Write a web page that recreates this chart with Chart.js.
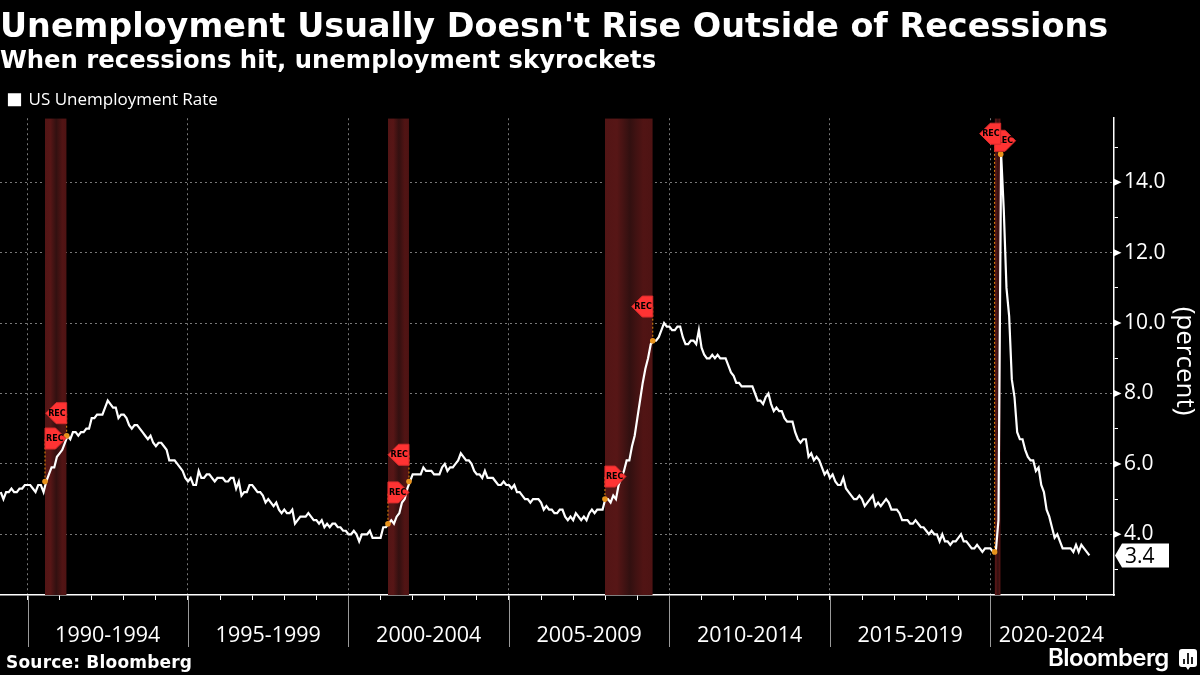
<!DOCTYPE html>
<html>
<head>
<meta charset="utf-8">
<title>Unemployment Usually Doesn't Rise Outside of Recessions</title>
<script src="https://cdn.jsdelivr.net/npm/chart.js@4"></script>
<style>
  html, body { margin: 0; padding: 0; background: #000; }
  #wrap { position: relative; width: 1200px; height: 675px; overflow: hidden; }
  #source { position: absolute; left: 6px; top: 652px; color: #fff; font: bold 17px "DejaVu Sans"; letter-spacing: 0.2px; }
  #brand { position: absolute; left: 1048px; top: 643px; color: #fff; font: 600 24px Inter; letter-spacing: -0.6px; }
  #icon { position: absolute; left: 1179px; top: 649px; }
</style>
</head>
<body>
<div id="wrap">
  <canvas id="chartUnemployment" width="1200" height="675"></canvas>
  <div id="source">Source: Bloomberg</div>
  <div id="brand">Bloomberg</div>
  <svg id="icon" width="18" height="21" viewBox="0 0 18 21">
    <path d="M3 0H15A3 3 0 0 1 18 3V15A3 3 0 0 1 15 18H11L9 21L7 18H3A3 3 0 0 1 0 15V3A3 3 0 0 1 3 0Z" fill="#fff"/>
    <path d="M4 10h2v5H4zM8 4h2v11H8zM12 8h2v7h-2z" fill="#222"/>
  </svg>
</div>
<script>
// US unemployment rate, month by month, first point is Feb 1989
var rate1989 = [5.2, 5.0, 5.2, 5.2, 5.3, 5.2, 5.2, 5.3, 5.3, 5.4, 5.4];
var rate1990s = [
  5.4, 5.3, 5.2, 5.4, 5.4, 5.2, 5.5, 5.7, 5.9, 5.9, 6.2, 6.3,
  6.4, 6.6, 6.8, 6.7, 6.9, 6.9, 6.8, 6.9, 6.9, 7.0, 7.0, 7.3,
  7.3, 7.4, 7.4, 7.4, 7.6, 7.8, 7.7, 7.6, 7.6, 7.3, 7.4, 7.4,
  7.3, 7.1, 7.0, 7.1, 7.1, 7.0, 6.9, 6.8, 6.7, 6.8, 6.6, 6.5,
  6.6, 6.6, 6.5, 6.4, 6.1, 6.1, 6.1, 6.0, 5.9, 5.8, 5.6, 5.5,
  5.6, 5.4, 5.4, 5.8, 5.6, 5.6, 5.7, 5.7, 5.6, 5.5, 5.6, 5.6,
  5.6, 5.5, 5.5, 5.6, 5.6, 5.3, 5.5, 5.1, 5.2, 5.2, 5.4, 5.4,
  5.3, 5.2, 5.2, 5.1, 4.9, 5.0, 4.9, 4.8, 4.9, 4.7, 4.6, 4.7,
  4.6, 4.6, 4.7, 4.3, 4.4, 4.5, 4.5, 4.5, 4.6, 4.5, 4.4, 4.4,
  4.3, 4.4, 4.2, 4.3, 4.2, 4.3, 4.3, 4.2, 4.2, 4.1, 4.1, 4.0
];
var rate2000s = [
  4.0, 4.1, 4.0, 3.8, 4.0, 4.0, 4.0, 4.1, 3.9, 3.9, 3.9, 3.9,
  4.2, 4.2, 4.3, 4.4, 4.3, 4.5, 4.6, 4.9, 5.0, 5.3, 5.5, 5.7,
  5.7, 5.7, 5.7, 5.9, 5.8, 5.8, 5.8, 5.7, 5.7, 5.7, 5.9, 6.0,
  5.8, 5.9, 5.9, 6.0, 6.1, 6.3, 6.2, 6.1, 6.1, 6.0, 5.8, 5.7,
  5.7, 5.6, 5.8, 5.6, 5.6, 5.6, 5.5, 5.4, 5.4, 5.5, 5.4, 5.4,
  5.3, 5.4, 5.2, 5.2, 5.1, 5.0, 5.0, 4.9, 5.0, 5.0, 5.0, 4.9,
  4.7, 4.8, 4.7, 4.7, 4.6, 4.6, 4.7, 4.7, 4.5, 4.4, 4.5, 4.4,
  4.6, 4.5, 4.4, 4.5, 4.4, 4.6, 4.7, 4.6, 4.7, 4.7, 4.7, 5.0,
  5.0, 4.9, 5.1, 5.0, 5.4, 5.6, 5.8, 6.1, 6.1, 6.5, 6.8, 7.3,
  7.8, 8.3, 8.7, 9.0, 9.4, 9.5, 9.5, 9.6, 9.8, 10.0, 9.9, 9.9
];
var rate2010s = [
  9.8, 9.8, 9.9, 9.9, 9.6, 9.4, 9.4, 9.5, 9.5, 9.4, 9.8, 9.3,
  9.1, 9.0, 9.0, 9.1, 9.0, 9.1, 9.0, 9.0, 9.0, 8.8, 8.6, 8.5,
  8.3, 8.3, 8.2, 8.2, 8.2, 8.2, 8.2, 8.0, 7.8, 7.8, 7.7, 7.9,
  8.0, 7.7, 7.5, 7.6, 7.5, 7.5, 7.3, 7.2, 7.2, 7.2, 6.9, 6.7,
  6.6, 6.7, 6.7, 6.2, 6.3, 6.1, 6.2, 6.1, 5.9, 5.7, 5.8, 5.6,
  5.7, 5.5, 5.4, 5.4, 5.6, 5.3, 5.2, 5.1, 5.0, 5.0, 5.1, 5.0,
  4.8, 4.9, 5.0, 5.1, 4.8, 4.9, 4.8, 4.9, 5.0, 4.9, 4.7, 4.7,
  4.7, 4.6, 4.4, 4.4, 4.4, 4.3, 4.3, 4.4, 4.3, 4.2, 4.2, 4.1,
  4.0, 4.1, 4.0, 4.0, 3.8, 4.0, 3.8, 3.8, 3.7, 3.8, 3.8, 3.9,
  4.0, 3.8, 3.8, 3.7, 3.6, 3.6, 3.7, 3.6, 3.5, 3.6, 3.6, 3.6
];
var rate2020s = [
  3.5, 3.5, 4.4, 14.8, 13.2, 11.0, 10.2, 8.4, 7.9, 6.9, 6.7, 6.7,
  6.4, 6.2, 6.1, 6.1, 5.8, 5.9, 5.4, 5.2, 4.7, 4.5, 4.2, 3.9,
  4.0, 3.8, 3.6, 3.6, 3.6, 3.6, 3.5, 3.7, 3.5, 3.7, 3.6, 3.5,
  3.4
];
var rates = rate1989.concat(rate1990s, rate2000s, rate2010s, rate2020s);

// recessions, in decimal years
var recStart = [1990.545, 2001.23, 2007.99, 2020.13];
var recEnd = [1991.22, 2001.885, 2009.48, 2020.32];
var recStartRate = [5.5, 4.3, 5.0, 3.5];
var recEndRate = [6.8, 5.5, 9.5, 14.8];
// height of the REC flags on the percent axis
var flagStartLevel = [6.72, 5.19, 5.64, 15.18];
var flagEndLevel = [7.44, 6.26, 10.47, 15.38];

var yearTicks = [1990,1991,1992,1993,1994,1995,1996,1997,1998,1999,2000,2001,2002,2003,2004,2005,2006,2007,2008,2009,2010,2011,2012,2013,2014,2015,2016,2017,2018,2019,2020,2021,2022,2023];
var periodTicks = [1992.5, 1997.5, 2002.5, 2007.5, 2012.5, 2017.5, 2021.9];
var periodLabels = ['1990-1994', '1995-1999', '2000-2004', '2005-2009', '2010-2014', '2015-2019', '2020-2024'];
var percentTicks = [3, 4, 5, 6, 7, 8, 9, 10, 11, 12, 13, 14, 15];

var X_MIN = 1989.143, X_MAX = 2023.85, Y_MIN = 2.275, Y_MAX = 15.82;
var FONT_AXIS = '"Open Sans"';

function isFive(v) { return Number.isInteger(v) && v % 5 === 0; }
function isPeriod(v) { return periodTicks.indexOf(v) >= 0; }

// points of the main line, dates are month ends
var linePoints = rates.map(function(v, i) {
  return { x: 1989 + (i + 2) / 12, y: v };
});

// dark red band, darker in the middle
function bandFill(i) {
  return function(ctx) {
    var chart = ctx.chart;
    if (!chart.chartArea) return '#4a1414';
    var sx = chart.scales.x;
    var g = chart.ctx.createLinearGradient(sx.getPixelForValue(recStart[i]), 0, sx.getPixelForValue(recEnd[i]), 0);
    g.addColorStop(0, '#521515');
    g.addColorStop(0.25, '#571616');
    g.addColorStop(0.52, '#321010');
    g.addColorStop(0.8, '#511414');
    g.addColorStop(1, '#4e1313');
    return g;
  };
}

var bandSets = recStart.map(function(s, i) {
  return {
    label: 'band' + i,
    data: [{ x: s, y: Y_MAX }, { x: recEnd[i], y: Y_MAX }],
    fill: 'start',
    backgroundColor: bandFill(i),
    borderWidth: 0,
    pointRadius: 0,
    order: 3
  };
});

var dotPoints = recStart.map(function(s, i) { return { x: s, y: recStartRate[i] }; })
  .concat(recEnd.map(function(e, i) { return { x: e, y: recEndRate[i] }; }));

// REC flags, the dashed stems and the arrow ticks
var decorPlugin = {
  id: 'decor',
  afterDatasetsDraw: function(chart) {
    var c = chart.ctx, sx = chart.scales.x, sy = chart.scales.y;

    function stem(x, v, level) {
      c.save();
      c.strokeStyle = '#e8890c';
      c.lineWidth = 1;
      c.setLineDash([2, 2]);
      c.beginPath();
      c.moveTo(x, sy.getPixelForValue(v));
      c.lineTo(x, sy.getPixelForValue(level));
      c.stroke();
      c.restore();
    }

    function flag(x, level, dir) {
      var y = sy.getPixelForValue(level);
      var w = 21, h = 10.5, flat = 10.5;
      c.save();
      c.beginPath();
      c.moveTo(x, y - h);
      c.lineTo(x + dir * flat, y - h);
      c.lineTo(x + dir * w, y);
      c.lineTo(x + dir * flat, y + h);
      c.lineTo(x, y + h);
      c.closePath();
      c.fillStyle = '#ff3333';
      c.fill();
      c.strokeStyle = '#d62c2c';
      c.lineWidth = 1;
      c.stroke();
      c.fillStyle = '#000';
      c.font = 'bold 8px "DejaVu Sans"';
      c.textBaseline = 'middle';
      c.textAlign = dir > 0 ? 'left' : 'right';
      c.fillText('REC', x + dir * 1, y + 0.5);
      c.restore();
    }

    recStart.forEach(function(s, i) {
      stem(sx.getPixelForValue(s), recStartRate[i], flagStartLevel[i]);
      stem(sx.getPixelForValue(recEnd[i]), recEndRate[i], flagEndLevel[i]);
    });
    recStart.forEach(function(s, i) {
      flag(sx.getPixelForValue(s), flagStartLevel[i], 1);
      flag(sx.getPixelForValue(recEnd[i]), flagEndLevel[i], -1);
    });

    // long separators under the x axis
    c.save();
    c.strokeStyle = '#9a9a9a';
    c.lineWidth = 1;
    yearTicks.filter(isFive).forEach(function(v) {
      var x = Math.round(sx.getPixelForValue(v)) + 0.5;
      c.beginPath();
      c.moveTo(x, chart.chartArea.bottom);
      c.lineTo(x, 647);
      c.stroke();
    });
    c.restore();

    // arrow shaped ticks on the labelled percent values
    c.save();
    c.fillStyle = '#fff';
    percentTicks.filter(function(v) { return v % 2 === 0; }).forEach(function(v) {
      var y = sy.getPixelForValue(v);
      c.beginPath();
      c.moveTo(chart.chartArea.right, y - 3.5);
      c.lineTo(chart.chartArea.right + 7.5, y);
      c.lineTo(chart.chartArea.right, y + 3.5);
      c.closePath();
      c.fill();
    });
    c.restore();

    // tag with the last value
    var last = rates[rates.length - 1];
    var ly = sy.getPixelForValue(last);
    var ax = chart.chartArea.right + 1;
    c.save();
    c.fillStyle = '#fff';
    c.beginPath();
    c.moveTo(ax, ly);
    c.lineTo(ax + 7, ly - 12);
    c.lineTo(ax + 54, ly - 12);
    c.lineTo(ax + 54, ly + 12);
    c.lineTo(ax + 7, ly + 12);
    c.closePath();
    c.fill();
    c.fillStyle = '#000';
    c.font = '21px ' + FONT_AXIS;
    c.textBaseline = 'middle';
    c.textAlign = 'left';
    c.fillText(last.toFixed(1), ax + 10, ly + 1.5);
    c.restore();

    // axis unit, turned a quarter
    c.save();
    c.translate(1184, 361);
    c.rotate(Math.PI / 2);
    c.fillStyle = '#fff';
    c.font = '26px ' + FONT_AXIS;
    c.textAlign = 'center';
    c.textBaseline = 'middle';
    c.fillText('(percent)', 0, 0);
    c.restore();
  }
};

new Chart(document.getElementById('chartUnemployment'), {
  type: 'line',
  data: {
    datasets: [
      {
        label: 'dots',
        data: dotPoints,
        showLine: false,
        pointRadius: 2.8,
        pointBackgroundColor: '#e8941e',
        pointBorderWidth: 0,
        order: 0
      },
      {
        label: 'US Unemployment Rate',
        data: linePoints,
        borderColor: '#fff',
        backgroundColor: '#fff',
        borderWidth: 2.2,
        pointRadius: 0,
        tension: 0,
        order: 1
      }
    ].concat(bandSets)
  },
  plugins: [decorPlugin],
  options: {
    responsive: false,
    animation: false,
    layout: { autoPadding: false, padding: { top: 9, left: 0, right: 0, bottom: 0 } },
    plugins: {
      title: {
        display: true,
        text: "Unemployment Usually Doesn't Rise Outside of Recessions",
        align: 'start',
        color: '#fff',
        font: { family: '"DejaVu Sans"', size: 33.4, weight: 'bold', lineHeight: 1.15 },
        padding: { top: 0, bottom: 0 }
      },
      subtitle: {
        display: true,
        text: 'When recessions hit, unemployment skyrockets',
        align: 'start',
        color: '#fff',
        font: { family: '"DejaVu Sans"', size: 24.3, weight: 'bold' },
        padding: { top: 0, bottom: 5.67 }
      },
      legend: {
        display: true,
        align: 'start',
        labels: {
          color: '#fff',
          boxWidth: 11,
          boxHeight: 11,
          padding: 9,
          font: { family: FONT_AXIS, size: 17 },
          filter: function(item) { return item.text === 'US Unemployment Rate'; }
        }
      },
      tooltip: { enabled: false }
    },
    scales: {
      x: {
        type: 'linear',
        min: X_MIN,
        max: X_MAX,
        afterBuildTicks: function(scale) {
          scale.ticks = yearTicks.concat(periodTicks).map(function(v) { return { value: v }; });
        },
        afterFit: function(scale) { scale.height = 80; },
        border: { color: '#fff', width: 1.5, dash: [2, 3] },
        grid: {
          color: function(ctx) { return isFive(ctx.tick.value) ? '#777' : 'transparent'; },
          tickColor: function(ctx) { return isPeriod(ctx.tick.value) ? 'transparent' : '#fff'; },
          tickLength: 5,
          tickBorderDash: [],
          lineWidth: 1
        },
        ticks: {
          autoSkip: false,
          maxRotation: 0,
          padding: 23,
          color: '#fff',
          font: { family: FONT_AXIS, size: 21.5 },
          callback: function(v) {
            var i = periodTicks.indexOf(v);
            return i >= 0 ? periodLabels[i] : '';
          }
        }
      },
      y: {
        type: 'linear',
        position: 'right',
        min: Y_MIN,
        max: Y_MAX,
        afterBuildTicks: function(scale) {
          scale.ticks = percentTicks.map(function(v) { return { value: v }; });
        },
        afterFit: function(scale) { scale.width = 86; },
        border: { color: '#fff', width: 1.5, dash: [2, 3] },
        grid: {
          color: function(ctx) { return ctx.tick.value % 2 === 0 ? '#777' : 'transparent'; },
          tickColor: '#fff',
          tickLength: 4,
          tickBorderDash: [],
          lineWidth: 1
        },
        ticks: {
          padding: 6,
          color: '#fff',
          font: { family: FONT_AXIS, size: 21 },
          callback: function(v) { return v % 2 === 0 ? v.toFixed(1) : ''; }
        }
      }
    }
  }
});
</script>
</body>
</html>
